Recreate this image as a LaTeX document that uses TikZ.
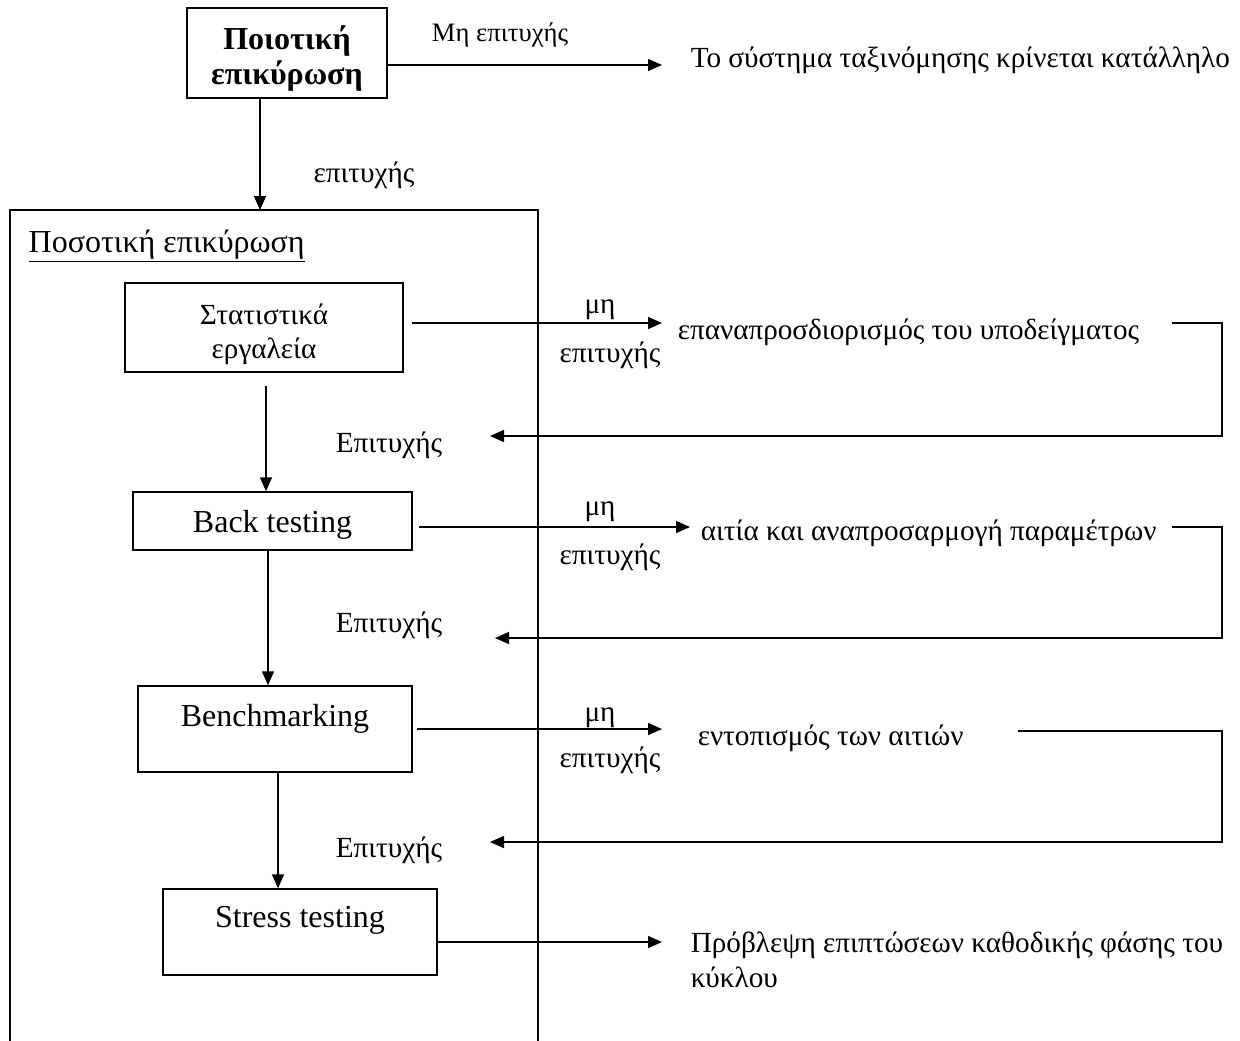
\documentclass[tikz,border=0pt]{standalone}
\usepackage{fontspec}
\setmainfont{Liberation Serif}
\usetikzlibrary{arrows.meta}

\begin{document}
\begin{tikzpicture}[x=0.5pt,y=-0.5pt,line width=0.75pt,
  every node/.style={font=\fontsize{14.6}{17.5}\selectfont},
  flow/.style={-{Triangle[length=7pt,width=6pt]}},
  stage/.style={draw,rectangle,inner sep=0pt,align=center,font=\fontsize{16}{17}\selectfont}]
  \useasboundingbox (0,0) rectangle (1240,1040);
  % qualitative check
  \node[stage, minimum width=100pt, minimum height=45pt,
        font=\fontsize{16}{17.5}\selectfont\bfseries] (qual) at (287,53) {\rule{0pt}{17pt}Ποιοτική\\επικύρωση};
  \node[font=\fontsize{13.3}{16}\selectfont] (fail0) at (500,35) {Μη επιτυχής};
  \node[anchor=west, inner sep=0pt] (res0) at (690,60) {Το σύστημα ταξινόμησης κρίνεται κατάλληλο};
  \draw[flow] (qual.east |- 0,65) -- (662,65);
  \node (ok0) at (364,175) {επιτυχής};
  \coordinate (top) at (260,210);
  \draw[flow] (qual.south -| top) -- (top);
  % quantitative frame (open at the bottom)
  \draw (10,1050) -- (10,210) -- (538,210) -- (538,1050);
  \node[anchor=base west, inner sep=0pt, font=\fontsize{16}{17}\selectfont] (quant) at (28,252) {\underline{Ποσοτική επικύρωση}};
  % stages
  \node[stage, minimum width=139pt, minimum height=44.5pt, font=\fontsize{14.6}{17}\selectfont] (s1) at (264,327.5) {\rule{0pt}{17pt}Στατιστικά\\εργαλεία};
  \node[stage, minimum width=139.5pt, minimum height=29pt, text height=20pt, text depth=9pt] (s2) at (272.5,521) {Back testing};
  \node[stage, minimum width=137pt, minimum height=43pt, text height=20pt, text depth=23pt] (s3) at (275,729) {Benchmarking};
  \node[stage, minimum width=137pt, minimum height=43pt, text height=19pt, text depth=24pt] (s4) at (300,932) {Stress testing};
  \draw[flow] (266,386) -- (s2.north -| 266,0);
  \draw[flow] (s2.south -| 268,0) -- (s3.north -| 268,0);
  \draw[flow] (s3.south -| 278,0) -- (s4.north -| 278,0);
  % outcomes
  \node[anchor=west, inner sep=0pt] (fix1) at (677,332) {επαναπροσδιορισμός του υποδείγματος};
  \node[anchor=west, inner sep=0pt] (fix2) at (700,533) {αιτία και αναπροσαρμογή παραμέτρων};
  \node[anchor=west, inner sep=0pt] (fix3) at (697,738) {εντοπισμός των αιτιών};
  \node[anchor=west, inner sep=0pt, align=left] (res4) at (690,960) {Πρόβλεψη επιπτώσεων καθοδικής φάσης του\\κύκλου};
  \draw[flow] (s1.east |- 0,323) ++(8,0) -- (662,323);
  \draw[flow] (s2.east |- 0,527) ++(6,0) -- (690,527);
  \draw[flow] (s3.east |- 0,729) ++(4,0) -- (662,729);
  \draw[flow] (s4.east |- 0,942) -- (662,942);
  \foreach \y/\n in {310/1,512/2,718/3} \node (no\n) at (600,\y) {μη};
  \foreach \y/\n in {355/1,557/2,760/3} \node (nolab\n) at (610,\y) {επιτυχής};
  % feedback loops
  \draw[flow] (1172,323) -- (1222,323) -- (1222,436) -- (490,436);
  \draw[flow] (1172,527) -- (1222,527) -- (1222,638) -- (495,638);
  \draw[flow] (1018,731) -- (1222,731) -- (1222,842) -- (490,842);
  \foreach \y/\n in {445/1,625/2,850/3} \node (ok\n) at (389,\y) {Επιτυχής};
\end{tikzpicture}
\end{document}
